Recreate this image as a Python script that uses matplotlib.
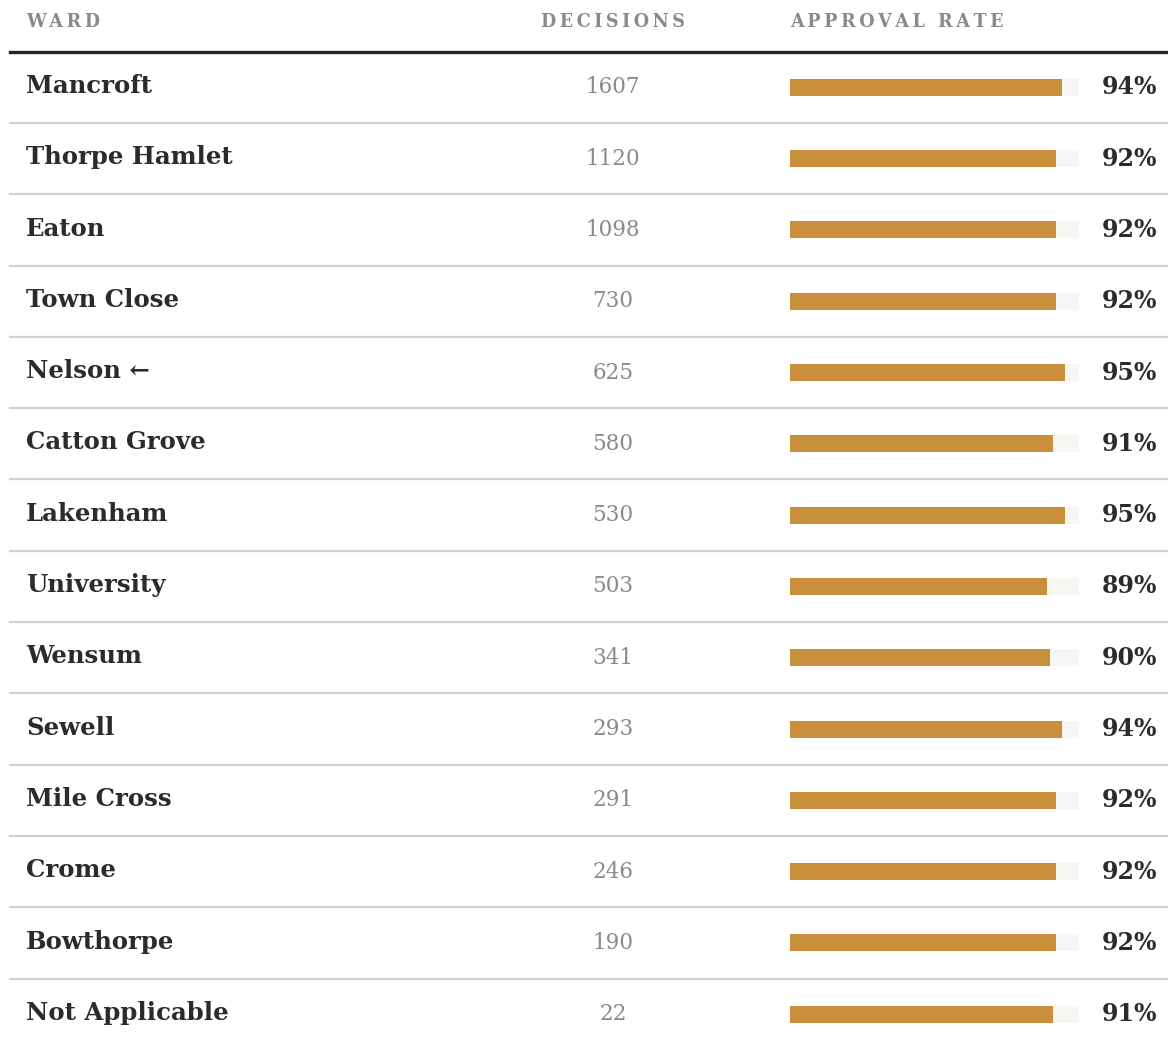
import matplotlib.pyplot as plt
import numpy as np

plt.rcParams['font.family'] = ['DejaVu Serif']

wards = ['Mancroft', 'Thorpe Hamlet', 'Eaton', 'Town Close', 'Nelson \u2190',
         'Catton Grove', 'Lakenham', 'University', 'Wensum', 'Sewell',
         'Mile Cross', 'Crome', 'Bowthorpe', 'Not Applicable']
decisions = [1607, 1120, 1098, 730, 625, 580, 530, 503, 341, 293, 291, 246, 190, 22]
approval = [94, 92, 92, 92, 95, 91, 95, 89, 90, 94, 92, 92, 92, 91]

headers = ['WARD', 'DECISIONS', 'APPROVAL RATE']

bar_color = '#c98f3a'
track_color = '#f7f6f3'
sep_color = '#d6d0c4'
text_dark = '#2b2b2b'
text_grey = '#8a8a8a'

# layout (pixel x, row units y)
row_h = 71.3
top_line = 51.7
fig_w, fig_h = 1168, 1045
x_name = 26
x_num = 613
x_bar = 790
bar_w = 289
x_pct = 1157

fig = plt.figure(figsize=(fig_w / 100, fig_h / 100), dpi=100)
ax = fig.add_axes([0, 0, 1, 1])
ax.set_xlim(0, fig_w)
ax.set_ylim(-0.5 + (fig_h - top_line) / row_h, -0.5 - top_line / row_h)
ax.axis('off')

y = np.arange(len(wards))
bh = 17 / row_h

# background tracks and bars
ax.barh(y, [bar_w] * len(wards), left=x_bar, height=bh, color=track_color, zorder=1)
ax.barh(y, np.array(approval) / 100 * bar_w, left=x_bar, height=bh, color=bar_color, zorder=2)

for i in range(len(wards)):
    ax.text(x_name, i - 0.02, wards[i], fontsize=17.6, fontweight='heavy', color=text_dark,
            ha='left', va='center')
    ax.text(x_num, i, str(decisions[i]), fontsize=15.5, color=text_grey,
            ha='center', va='center')
    ax.text(x_pct, i, '%d%%' % approval[i], fontsize=17, fontweight='heavy', color=text_dark,
            ha='right', va='center')

# separators
for i in range(len(wards) - 1):
    ax.plot([10, fig_w], [i + 0.5, i + 0.5], color=sep_color, lw=1.6, zorder=0)
ax.plot([10, fig_w], [-0.5, -0.5], color='#1e2630', lw=2.4, zorder=3)


def spaced(s):
    return '\u2009'.join(s)


# header
hy = -0.5 - 30 / row_h
ax.text(x_name, hy, spaced(headers[0]), fontsize=12.7, fontweight='bold', color=text_grey,
        ha='left', va='center')
ax.text(x_num, hy, spaced(headers[1]), fontsize=12.7, fontweight='bold', color=text_grey,
        ha='center', va='center')
ax.text(x_bar, hy, spaced(headers[2]), fontsize=12.7, fontweight='bold', color=text_grey,
        ha='left', va='center')

plt.savefig('out.png', dpi=100, facecolor='white')
